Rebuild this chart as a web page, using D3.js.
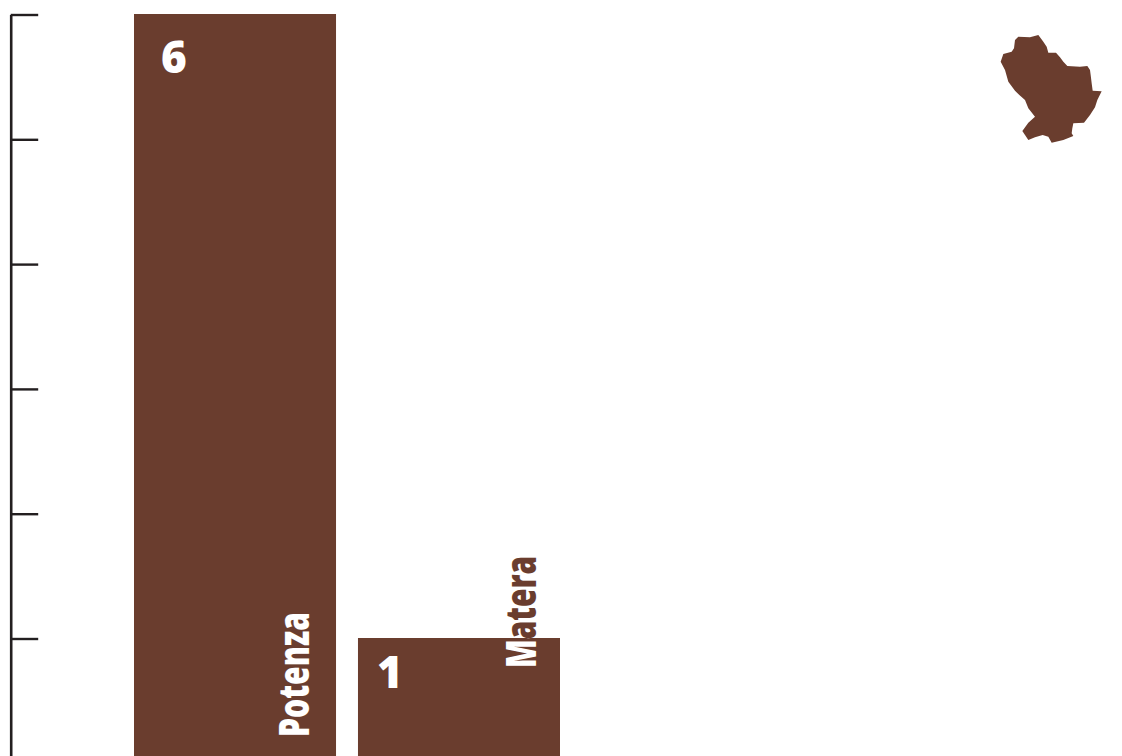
<!DOCTYPE html>
<html><head><meta charset="utf-8">
<script src="https://cdn.jsdelivr.net/npm/d3@7"></script>
<style>html,body{margin:0;padding:0;background:#fff;overflow:hidden}svg{display:block}</style>
</head><body>
<svg id="c" width="1122" height="756"></svg>
<script>
const categories = ["Potenza", "Matera"];
const values = [6, 1];
const tickValues = [1, 2, 3, 4, 5, 6];
// Outline of the region (arbitrary map units)
const regionOutline = [[105,60],[115,50],[150,52],[175,45],[190,65],[200,80],[205,98],[228,98],[240,112],[250,125],[262,138],[300,140],[322,138],[330,150],[332,165],[335,190],[338,212],[365,214],[352,240],[345,262],[330,285],[312,308],[280,310],[277,325],[275,340],[280,348],[250,360],[215,368],[205,350],[188,345],[165,352],[145,360],[135,345],[127,333],[145,308],[165,290],[145,265],[135,240],[118,225],[105,212],[85,185],[75,150],[62,125],[70,102],[95,95],[102,85]];

const brown = "#6a3d2e", ink = "#231f20";
const font = "'Open Sans', sans-serif";
const svg = d3.select("#c");
const x = d3.scaleBand().domain(categories).range([134, 560]).paddingInner(0.098);
const y = d3.scaleLinear().domain([0, 6]).range([762.8, 14]);

const axis = d3.axisRight(y).tickValues(tickValues).tickSize(27.5).tickFormat("").tickSizeOuter(0);
const ag = svg.append("g").attr("transform", "translate(10.7,0.5)").call(axis);
ag.selectAll("path").attr("stroke", ink).attr("stroke-width", 2.6);
ag.selectAll("line").attr("stroke", ink).attr("stroke-width", 2.4);

svg.selectAll("rect.bar").data(categories).join("rect").attr("class", "bar")
  .attr("x", d => x(d)).attr("width", x.bandwidth())
  .attr("y", (d, i) => y(values[i])).attr("height", (d, i) => y(0) - y(values[i]))
  .attr("fill", brown);

// value labels
svg.selectAll("text.val").data(categories).join("text").attr("class", "val")
  .attr("x", (d, i) => x(d) + (i === 0 ? 27 : 19))
  .attr("y", (d, i) => y(values[i]) + (i === 0 ? 58.5 : 50))
  .attr("font-family", font).attr("font-weight", 800).attr("font-size", 44)
  .attr("fill", "#fff").text((d, i) => values[i]);

// category labels, rotated; white over the bar, brown above it
const defs = svg.append("defs");
const baseX = [308.5, 536], baseY = [737, 668], len = [125, 112];
categories.forEach((c, i) => {
  const split = (baseY[i] - y(values[i])) / len[i];
  const frac = Math.min(1, split);
  const g = defs.append("linearGradient").attr("id", "lab" + i)
    .attr("gradientUnits", "userSpaceOnUse").attr("x1", 0).attr("x2", len[i]).attr("y1", 0).attr("y2", 0);
  g.append("stop").attr("offset", frac).attr("stop-color", "#fff");
  g.append("stop").attr("offset", frac).attr("stop-color", frac < 1 ? brown : "#fff");
  svg.append("text")
    .attr("transform", `translate(${baseX[i]},${baseY[i]}) rotate(-90)`)
    .attr("font-family", font).attr("font-weight", 800).attr("font-size", 42)
    .attr("textLength", len[i]).attr("lengthAdjust", "spacingAndGlyphs")
    .attr("fill", `url(#lab${i})`).text(c);
});

// region shape
const mx = d3.scaleLinear().domain([0, 420]).range([980, 1120]);
const my = d3.scaleLinear().domain([0, 405]).range([20, 155]);
svg.append("path").attr("fill", brown)
  .attr("d", d3.line().x(d => mx(d[0])).y(d => my(d[1])).curve(d3.curveLinearClosed)(regionOutline));
</script>
</body></html>
